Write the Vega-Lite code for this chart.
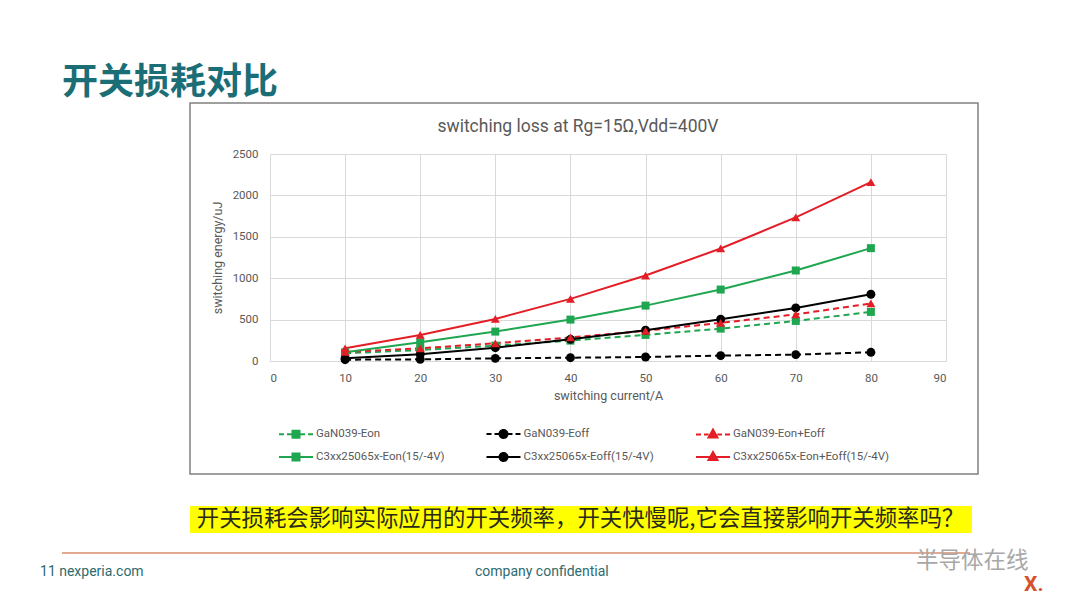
{
  "$schema": "https://vega.github.io/schema/vega-lite/v6.json",
  "width": 676,
  "height": 207,
  "autosize": {"type": "none"},
  "padding": {"left": 270, "top": 154, "right": 134, "bottom": 247},
  "background": "#ffffff",
  "datasets": {
    "loss": [
      {"series": "GaN039-Eon", "current": 10, "energy": 93},
      {"series": "GaN039-Eon", "current": 20, "energy": 133},
      {"series": "GaN039-Eon", "current": 30, "energy": 185},
      {"series": "GaN039-Eon", "current": 40, "energy": 246},
      {"series": "GaN039-Eon", "current": 50, "energy": 315},
      {"series": "GaN039-Eon", "current": 60, "energy": 391},
      {"series": "GaN039-Eon", "current": 70, "energy": 484},
      {"series": "GaN039-Eon", "current": 80, "energy": 593},
      {"series": "GaN039-Eoff", "current": 10, "energy": 16},
      {"series": "GaN039-Eoff", "current": 20, "energy": 20},
      {"series": "GaN039-Eoff", "current": 30, "energy": 32},
      {"series": "GaN039-Eoff", "current": 40, "energy": 40},
      {"series": "GaN039-Eoff", "current": 50, "energy": 48},
      {"series": "GaN039-Eoff", "current": 60, "energy": 65},
      {"series": "GaN039-Eoff", "current": 70, "energy": 77},
      {"series": "GaN039-Eoff", "current": 80, "energy": 105},
      {"series": "GaN039-Eon+Eoff", "current": 10, "energy": 109},
      {"series": "GaN039-Eon+Eoff", "current": 20, "energy": 153},
      {"series": "GaN039-Eon+Eoff", "current": 30, "energy": 214},
      {"series": "GaN039-Eon+Eoff", "current": 40, "energy": 284},
      {"series": "GaN039-Eon+Eoff", "current": 50, "energy": 365},
      {"series": "GaN039-Eon+Eoff", "current": 60, "energy": 460},
      {"series": "GaN039-Eon+Eoff", "current": 70, "energy": 563},
      {"series": "GaN039-Eon+Eoff", "current": 80, "energy": 695},
      {"series": "C3xx25065x-Eon(15/-4V)", "current": 10, "energy": 105},
      {"series": "C3xx25065x-Eon(15/-4V)", "current": 20, "energy": 226},
      {"series": "C3xx25065x-Eon(15/-4V)", "current": 30, "energy": 355},
      {"series": "C3xx25065x-Eon(15/-4V)", "current": 40, "energy": 500},
      {"series": "C3xx25065x-Eon(15/-4V)", "current": 50, "energy": 669},
      {"series": "C3xx25065x-Eon(15/-4V)", "current": 60, "energy": 863},
      {"series": "C3xx25065x-Eon(15/-4V)", "current": 70, "energy": 1093},
      {"series": "C3xx25065x-Eon(15/-4V)", "current": 80, "energy": 1363},
      {"series": "C3xx25065x-Eoff(15/-4V)", "current": 10, "energy": 32},
      {"series": "C3xx25065x-Eoff(15/-4V)", "current": 20, "energy": 81},
      {"series": "C3xx25065x-Eoff(15/-4V)", "current": 30, "energy": 161},
      {"series": "C3xx25065x-Eoff(15/-4V)", "current": 40, "energy": 262},
      {"series": "C3xx25065x-Eoff(15/-4V)", "current": 50, "energy": 371},
      {"series": "C3xx25065x-Eoff(15/-4V)", "current": 60, "energy": 504},
      {"series": "C3xx25065x-Eoff(15/-4V)", "current": 70, "energy": 641},
      {"series": "C3xx25065x-Eoff(15/-4V)", "current": 80, "energy": 806},
      {"series": "C3xx25065x-Eon+Eoff(15/-4V)", "current": 10, "energy": 153},
      {"series": "C3xx25065x-Eon+Eoff(15/-4V)", "current": 20, "energy": 315},
      {"series": "C3xx25065x-Eon+Eoff(15/-4V)", "current": 30, "energy": 508},
      {"series": "C3xx25065x-Eon+Eoff(15/-4V)", "current": 40, "energy": 750},
      {"series": "C3xx25065x-Eon+Eoff(15/-4V)", "current": 50, "energy": 1032},
      {"series": "C3xx25065x-Eon+Eoff(15/-4V)", "current": 60, "energy": 1359},
      {"series": "C3xx25065x-Eon+Eoff(15/-4V)", "current": 70, "energy": 1734},
      {"series": "C3xx25065x-Eon+Eoff(15/-4V)", "current": 80, "energy": 2161}
    ]
  },
  "layer": [
    {
      "data": {"values": [{"box": "chart"}]},
      "mark": {"type": "rect", "fill": null, "stroke": "#808080", "strokeWidth": 1.5},
      "encoding": {
        "x": {"datum": -10.65, "type": "quantitative", "scale": {"domain": [0, 90], "nice": false}},
        "x2": {"datum": 94.26},
        "y": {"datum": 3116, "type": "quantitative", "scale": {"domain": [0, 2500], "nice": false}},
        "y2": {"datum": -1365}
      }
    },
    {
      "data": {"values": [{"box": "highlight"}]},
      "mark": {"type": "rect", "fill": "#ffff00"},
      "encoding": {
        "x": {"datum": -10.65, "type": "quantitative", "scale": {"domain": [0, 90], "nice": false}},
        "x2": {"datum": 93.46},
        "y": {"datum": -1751, "type": "quantitative", "scale": {"domain": [0, 2500], "nice": false}},
        "y2": {"datum": -2077}
      }
    },
    {
      "data": {"values": [{"box": "footer"}]},
      "mark": {"type": "rule", "stroke": "#d98b6c", "strokeWidth": 1.5},
      "encoding": {
        "x": {"datum": -27.7, "type": "quantitative", "scale": {"domain": [0, 90], "nice": false}},
        "x2": {"datum": 93.2},
        "y": {"datum": -2319, "type": "quantitative", "scale": {"domain": [0, 2500], "nice": false}}
      }
    },
    {
      "data": {"values": [{"label": "开关损耗对比"}]},
      "mark": {"type": "text", "align": "left", "baseline": "middle", "font": "Noto Sans CJK SC", "fontWeight": "bold", "fontSize": 36, "color": "#1b6e75"},
      "encoding": {
        "x": {"datum": -27.7, "type": "quantitative", "scale": {"domain": [0, 90], "nice": false}},
        "y": {"datum": 3357, "type": "quantitative", "scale": {"domain": [0, 2500], "nice": false}},
        "text": {"field": "label"}
      }
    },
    {
      "data": {"values": [{"label": "switching loss at Rg=15Ω,Vdd=400V"}]},
      "mark": {"type": "text", "align": "center", "baseline": "middle", "fontSize": 17.5, "color": "#595959"},
      "encoding": {
        "x": {"datum": 41.0, "type": "quantitative", "scale": {"domain": [0, 90], "nice": false}},
        "y": {"datum": 2826, "type": "quantitative", "scale": {"domain": [0, 2500], "nice": false}},
        "text": {"field": "label"}
      }
    },
    {
      "data": {"values": [{"label": "开关损耗会影响实际应用的开关频率，开关快慢呢,它会直接影响开关频率吗？"}]},
      "mark": {"type": "text", "align": "center", "baseline": "middle", "font": "Noto Sans CJK SC", "fontSize": 22.4, "color": "#2a2a1a"},
      "encoding": {
        "x": {"datum": 41.34, "type": "quantitative", "scale": {"domain": [0, 90], "nice": false}},
        "y": {"datum": -1914, "type": "quantitative", "scale": {"domain": [0, 2500], "nice": false}},
        "text": {"field": "label"}
      }
    },
    {
      "data": {"values": [{"label": "11 nexperia.com", "pos": -30.62}, {"label": "company confidential", "pos": 27.29}]},
      "mark": {"type": "text", "align": "left", "baseline": "middle", "fontSize": 14, "color": "#2d6b6e"},
      "encoding": {
        "x": {"field": "pos", "type": "quantitative", "scale": {"domain": [0, 90], "nice": false}},
        "y": {"datum": -2548, "type": "quantitative", "scale": {"domain": [0, 2500], "nice": false}},
        "text": {"field": "label"}
      }
    },
    {
      "data": {"values": [{"label": "半导体在线"}]},
      "mark": {"type": "text", "align": "center", "baseline": "middle", "font": "Noto Sans CJK SC", "fontSize": 22.5, "color": "#a8a8a8"},
      "encoding": {
        "x": {"datum": 93.5, "type": "quantitative", "scale": {"domain": [0, 90], "nice": false}},
        "y": {"datum": -2410, "type": "quantitative", "scale": {"domain": [0, 2500], "nice": false}},
        "text": {"field": "label"}
      }
    },
    {
      "data": {"values": [{"label": "X."}]},
      "mark": {"type": "text", "align": "left", "baseline": "middle", "fontWeight": "bold", "fontSize": 21, "color": "#d6502c"},
      "encoding": {
        "x": {"datum": 100.4, "type": "quantitative", "scale": {"domain": [0, 90], "nice": false}},
        "y": {"datum": -2700, "type": "quantitative", "scale": {"domain": [0, 2500], "nice": false}},
        "text": {"field": "label"}
      }
    },
    {
      "data": {"name": "loss"},
      "transform": [{"filter": "indexof(datum.series, 'GaN') === 0"}],
      "mark": {"type": "line", "strokeWidth": 2, "strokeDash": [6, 4]},
      "encoding": {
        "x": {
          "field": "current",
          "type": "quantitative",
          "scale": {"domain": [0, 90], "nice": false},
          "axis": {"values": [0, 10, 20, 30, 40, 50, 60, 70, 80, 90], "title": "switching current/A"}
        },
        "y": {
          "field": "energy",
          "type": "quantitative",
          "scale": {"domain": [0, 2500], "nice": false},
          "axis": {"values": [0, 500, 1000, 1500, 2000, 2500], "format": "d", "title": "switching energy/uJ"}
        },
        "color": {
          "field": "series",
          "type": "nominal",
          "scale": {
            "domain": ["GaN039-Eon", "GaN039-Eoff", "GaN039-Eon+Eoff", "C3xx25065x-Eon(15/-4V)", "C3xx25065x-Eoff(15/-4V)", "C3xx25065x-Eon+Eoff(15/-4V)"],
            "range": ["#1fa650", "#000000", "#e41e26", "#1fa650", "#000000", "#e41e26"]
          },
          "legend": {
            "title": null,
            "orient": "none",
            "legendX": 17,
            "legendY": 271,
            "columns": 3,
            "direction": "horizontal",
            "symbolSize": 256,
            "labelOffset": 11,
            "labelLimit": 260,
            "columnPadding": 37.5,
            "rowPadding": 6,
            "padding": 0,
            "encode": {
              "symbols": {
                "update": {
                  "shape": {"signal": "(indexof(datum.value, 'GaN') === 0 ? 'M-2.125,0H-1.5M-1.125,0H-0.55M0.55,0H1.125M1.5,0H2.125' : 'M-2.125,0H2.125') + (indexof(datum.value, 'Eon+') >= 0 ? 'M0,-0.62L0.56,0.38H-0.56Z' : indexof(datum.value, 'Eon') >= 0 ? 'M-0.44,-0.44H0.44V0.44H-0.44Z' : 'M-0.5,0A0.5,0.5,0,1,0,0.5,0A0.5,0.5,0,1,0,-0.5,0Z')"},
                  "stroke": {"scale": "color", "field": "value"},
                  "fill": {"scale": "color", "field": "value"},
                  "strokeDash": {"value": [1, 0]},
                  "strokeWidth": {"value": 2},
                  "opacity": {"value": 1}
                }
              }
            }
          }
        }
      }
    },
    {
      "data": {"name": "loss"},
      "transform": [{"filter": "indexof(datum.series, 'GaN') !== 0"}],
      "mark": {"type": "line", "strokeWidth": 2},
      "encoding": {
        "x": {"field": "current", "type": "quantitative", "scale": {"domain": [0, 90], "nice": false}},
        "y": {"field": "energy", "type": "quantitative", "scale": {"domain": [0, 2500], "nice": false}},
        "color": {"field": "series", "type": "nominal"}
      }
    },
    {
      "data": {"name": "loss"},
      "transform": [{"filter": "indexof(datum.series, 'Eon') >= 0 && indexof(datum.series, 'Eon+') < 0"}],
      "mark": {"type": "square", "opacity": 1, "size": 64},
      "encoding": {
        "x": {"field": "current", "type": "quantitative", "scale": {"domain": [0, 90], "nice": false}},
        "y": {"field": "energy", "type": "quantitative", "scale": {"domain": [0, 2500], "nice": false}},
        "color": {"field": "series", "type": "nominal"}
      }
    },
    {
      "data": {"name": "loss"},
      "transform": [{"filter": "indexof(datum.series, 'Eon') < 0"}],
      "mark": {"type": "circle", "opacity": 1, "size": 80},
      "encoding": {
        "x": {"field": "current", "type": "quantitative", "scale": {"domain": [0, 90], "nice": false}},
        "y": {"field": "energy", "type": "quantitative", "scale": {"domain": [0, 2500], "nice": false}},
        "color": {"field": "series", "type": "nominal"}
      }
    },
    {
      "data": {"name": "loss"},
      "transform": [{"filter": "indexof(datum.series, 'Eon+') >= 0"}],
      "mark": {"type": "point", "shape": "triangle-up", "filled": true, "opacity": 1, "size": 80},
      "encoding": {
        "x": {"field": "current", "type": "quantitative", "scale": {"domain": [0, 90], "nice": false}},
        "y": {"field": "energy", "type": "quantitative", "scale": {"domain": [0, 2500], "nice": false}},
        "color": {"field": "series", "type": "nominal"}
      }
    }
  ],
  "config": {
    "font": "Liberation Sans Narrow, Roboto, sans-serif",
    "view": {"stroke": null},
    "axis": {
      "grid": true,
      "gridColor": "#d9d9d9",
      "gridWidth": 1,
      "ticks": false,
      "domain": false,
      "labelColor": "#595959",
      "labelFontSize": 11.5,
      "titleColor": "#595959",
      "titleFontSize": 12.5,
      "titleFontWeight": "normal"
    },
    "axisX": {"domain": true, "domainColor": "#d9d9d9", "labelPadding": 11, "titlePadding": 6},
    "axisY": {"labelPadding": 12, "titlePadding": 8},
    "legend": {"labelColor": "#595959", "labelFontSize": 11.5}
  }
}
